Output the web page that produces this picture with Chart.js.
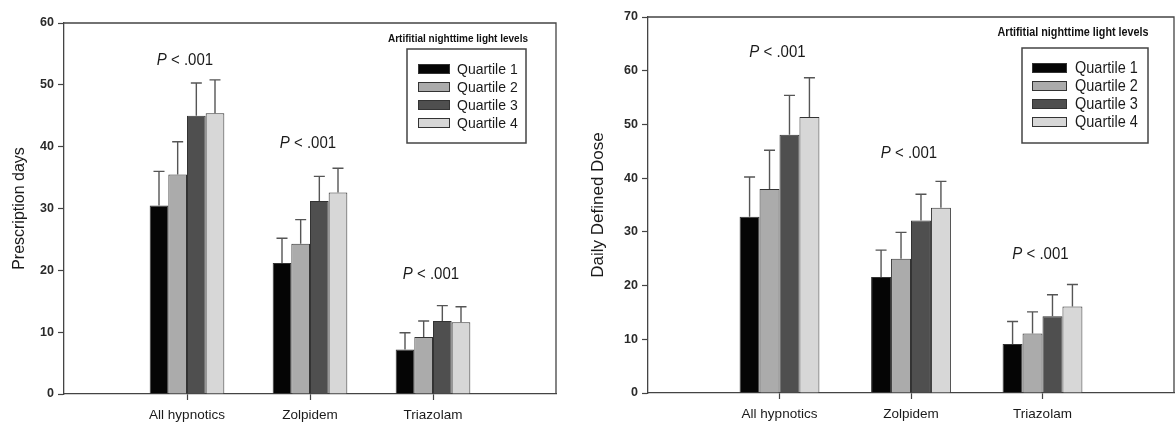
<!DOCTYPE html>
<html><head><meta charset="utf-8">
<script src="https://cdn.jsdelivr.net/npm/chart.js@4/dist/chart.umd.min.js"></script>
<style>
html,body{margin:0;padding:0;background:#fff;}
#wrap{position:relative;width:1176px;height:423px;overflow:hidden;}
.box{position:absolute;top:0;height:423px;}
</style></head><body>
<div id="wrap">
<div class="box" style="left:0;width:580px"><canvas id="c1" width="580" height="423"></canvas></div>
<div class="box" style="left:580px;width:596px"><canvas id="c2" width="596" height="423"></canvas></div>
</div>
<script>
const categories = ['All hypnotics', 'Zolpidem', 'Triazolam'];
const quartiles = ['Quartile 1', 'Quartile 2', 'Quartile 3', 'Quartile 4'];
const legendTitle = 'Artifitial nighttime light levels';
const pItalic = 'P';
const pRest = ' < .001';
const yTicksDays = [0, 10, 20, 30, 40, 50, 60];
const yTicksDose = [0, 10, 20, 30, 40, 50, 60, 70];

// Prescription days (mean and upper end of error bar)
const daysQ1 = [30.5, 21.2, 7.2];
const daysQ2 = [35.5, 24.3, 9.2];
const daysQ3 = [45.0, 31.2, 11.8];
const daysQ4 = [45.4, 32.6, 11.6];
const daysQ1Up = [36.0, 25.2, 9.9];
const daysQ2Up = [40.8, 28.2, 11.8];
const daysQ3Up = [50.3, 35.2, 14.3];
const daysQ4Up = [50.8, 36.5, 14.1];

// Daily defined dose
const doseQ1 = [32.8, 21.6, 9.1];
const doseQ2 = [38.0, 25.0, 11.1];
const doseQ3 = [48.1, 32.1, 14.3];
const doseQ4 = [51.4, 34.5, 16.1];
const doseQ1Up = [40.2, 26.6, 13.3];
const doseQ2Up = [45.2, 29.9, 15.1];
const doseQ3Up = [55.4, 37.0, 18.3];
const doseQ4Up = [58.7, 39.4, 20.2];

const FONT = '"Liberation Sans", Arial, sans-serif';
const fills = ['#050505', '#ababab', '#4f4f4f', '#d7d7d7'];
const pad = a => [null, ...a, null];

const framePlugin = {
  id: 'frame',
  afterDraw(chart) {
    const {ctx, chartArea: a} = chart;
    ctx.save();
    ctx.strokeStyle = '#444'; ctx.lineWidth = 1.3;
    ctx.beginPath();
    ctx.moveTo(a.left, a.top); ctx.lineTo(a.right, a.top); ctx.lineTo(a.right, a.bottom);
    ctx.stroke();
    ctx.restore();
  }
};

const errorPlugin = {
  id: 'errbars',
  afterDatasetsDraw(chart) {
    const {ctx} = chart;
    const ys = chart.scales.y;
    ctx.save();
    ctx.strokeStyle = '#555'; ctx.lineWidth = 1.4;
    chart.data.datasets.forEach((ds, i) => {
      const meta = chart.getDatasetMeta(i);
      meta.data.forEach((el, j) => {
        const up = ds.upper[j];
        if (up == null || ds.data[j] == null) return;
        const yu = ys.getPixelForValue(up);
        ctx.beginPath();
        ctx.moveTo(el.x, el.y); ctx.lineTo(el.x, yu);
        ctx.moveTo(el.x - 5.5, yu); ctx.lineTo(el.x + 5.5, yu);
        ctx.stroke();
      });
    });
    ctx.restore();
  }
};

// text drawn slightly taller than wide, like the reference
function stretchedText(ctx, text, x, y, sy) {
  ctx.save();
  ctx.translate(x, y);
  ctx.scale(1, sy);
  ctx.fillText(text, 0, 0);
  ctx.restore();
}

const pPlugin = {
  id: 'plabels',
  afterDraw(chart, args, opts) {
    const {ctx} = chart;
    const xs = chart.scales.x, ys = chart.scales.y;
    ctx.save();
    ctx.fillStyle = '#1a1a1a';
    ctx.textBaseline = 'middle';
    ctx.textAlign = 'left';
    categories.forEach((c, k) => {
      const x = xs.getPixelForValue(k + 1) - 2;
      const y = ys.getPixelForValue(opts.at[k]);
      ctx.font = 'italic 15px ' + FONT;
      const w1 = ctx.measureText(pItalic).width;
      ctx.font = '15px ' + FONT;
      const w2 = ctx.measureText(pRest).width;
      const x0 = x - (w1 + w2) / 2;
      ctx.font = 'italic 15px ' + FONT;
      stretchedText(ctx, pItalic, x0, y, 1.12);
      ctx.font = '15px ' + FONT;
      stretchedText(ctx, pRest, x0 + w1, y, 1.12);
    });
    ctx.restore();
  }
};

const legendPlugin = {
  id: 'boxlegend',
  afterDraw(chart, args, o) {
    const {ctx} = chart;
    ctx.save();
    ctx.fillStyle = '#111';
    ctx.font = 'bold ' + o.titleSize + 'px ' + FONT;
    ctx.textAlign = 'center'; ctx.textBaseline = 'middle';
    stretchedText(ctx, legendTitle, o.titleX, o.titleY, 1.1);
    ctx.strokeStyle = '#444'; ctx.lineWidth = 1.5;
    ctx.strokeRect(o.bx, o.by, o.bw, o.bh);
    ctx.textAlign = 'left';
    ctx.font = o.textSize + 'px ' + FONT;
    chart.data.datasets.forEach((ds, i) => {
      const cy = o.rowY + i * o.rowGap;
      ctx.fillStyle = ds.backgroundColor;
      ctx.fillRect(o.sx, cy - o.sh / 2, o.sw, o.sh);
      ctx.strokeStyle = '#333'; ctx.lineWidth = 1;
      ctx.strokeRect(o.sx + 0.5, cy - o.sh / 2 + 0.5, o.sw - 1, o.sh - 1);
      ctx.fillStyle = '#1a1a1a';
      stretchedText(ctx, ds.label, o.tx, cy + 1, 1.1);
    });
    ctx.restore();
  }
};

function makeChart(id, cfg) {
  const datasets = cfg.series.map((s, i) => ({
    label: quartiles[i],
    data: pad(s),
    upper: pad(cfg.uppers[i]),
    backgroundColor: fills[i],
    borderColor: '#333',
    borderWidth: 1,
    categoryPercentage: 0.607,
    barPercentage: 1.0
  }));
  return new Chart(document.getElementById(id), {
    type: 'bar',
    data: {labels: ['', ...categories, ''], datasets},
    options: {
      responsive: false,
      animation: false,
      events: [],
      layout: {padding: cfg.padding},
      plugins: {
        legend: {display: false},
        tooltip: {enabled: false},
        plabels: {at: cfg.pAt},
        boxlegend: cfg.legend
      },
      scales: {
        x: {
          offset: false,
          grid: {offset: false, drawOnChartArea: false, drawTicks: true, tickLength: 6, tickWidth: 1.2,
                 tickColor: c => (c.index === 0 || c.index === 4) ? 'rgba(0,0,0,0)' : '#444'},
          border: {display: true, color: '#444', width: 1.3},
          ticks: {color: '#1a1a1a', font: {family: FONT, size: 13.5}, padding: 7, maxRotation: 0, autoSkip: false},
          afterFit: s => { s.height = cfg.xHeight; s.paddingLeft = 0; s.paddingRight = 0; }
        },
        y: {
          min: 0, max: cfg.yTicks[cfg.yTicks.length - 1],
          afterBuildTicks: s => { s.ticks = cfg.yTicks.map(v => ({value: v})); },
          grid: {drawOnChartArea: false, drawTicks: true, tickLength: 6, tickWidth: 1.2, tickColor: '#444'},
          border: {display: true, color: '#444', width: 1.3},
          ticks: {color: '#2a2a2a', font: {family: FONT, size: 12.5, weight: 'bold'}, padding: 4},
          title: {display: true, text: cfg.yTitle, color: '#1a1a1a', font: {family: FONT, size: cfg.titleSize}, padding: {top: cfg.titlePad, bottom: 0}},
          afterFit: s => { s.width = cfg.yWidth; }
        }
      }
    },
    plugins: [framePlugin, errorPlugin, pPlugin, legendPlugin]
  });
}

makeChart('c1', {
  series: [daysQ1, daysQ2, daysQ3, daysQ4],
  uppers: [daysQ1Up, daysQ2Up, daysQ3Up, daysQ4Up],
  yTicks: yTicksDays,
  yTitle: 'Prescription days',
  titleSize: 16,
  titlePad: 9.5,
  yWidth: 64,
  xHeight: 29,
  padding: {top: 23, right: 24, left: 0, bottom: 0},
  pAt: [53.9, 40.6, 19.3],
  legend: {titleX: 458, titleY: 39, titleSize: 10, bx: 407, by: 49, bw: 119, bh: 94,
           sx: 418, sw: 32, sh: 10, rowY: 69, rowGap: 18, tx: 457, textSize: 14}
});

makeChart('c2', {
  series: [doseQ1, doseQ2, doseQ3, doseQ4],
  uppers: [doseQ1Up, doseQ2Up, doseQ3Up, doseQ4Up],
  yTicks: yTicksDose,
  yTitle: 'Daily Defined Dose',
  titleSize: 17,
  titlePad: 8.5,
  yWidth: 68,
  xHeight: 30,
  padding: {top: 17, right: 2, left: 0, bottom: 0},
  pAt: [63.4, 44.7, 25.9],
  legend: {titleX: 493, titleY: 33, titleSize: 10.8, bx: 442, by: 48, bw: 126, bh: 95,
           sx: 452, sw: 35, sh: 10, rowY: 68, rowGap: 18, tx: 495, textSize: 14.5}
});
</script>
</body></html>
